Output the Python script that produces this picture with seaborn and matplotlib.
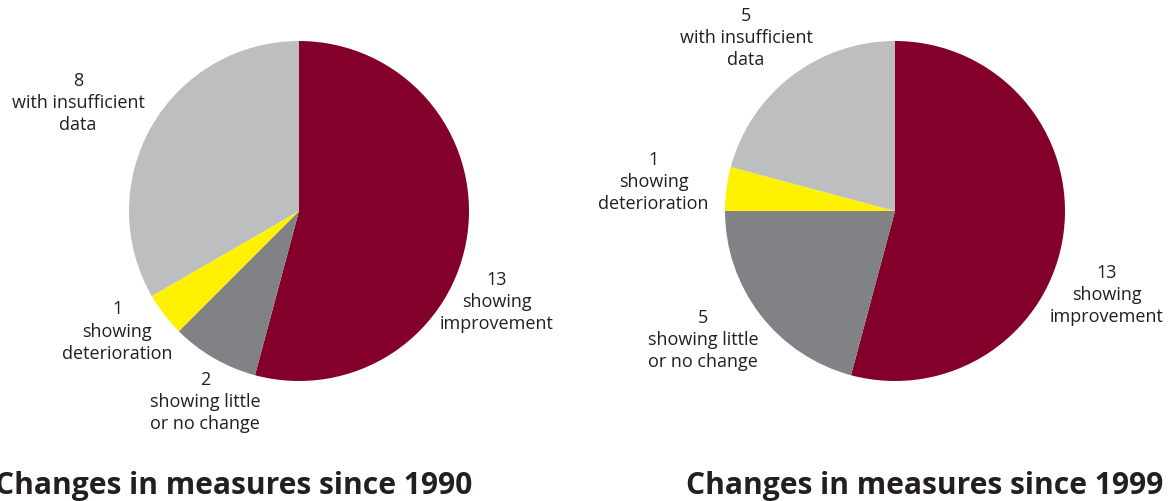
import matplotlib
matplotlib.use("Agg")
import matplotlib.pyplot as plt
import seaborn as sns

sns.set_theme(style="white")
plt.rcParams['font.family'] = ['Open Sans', 'DejaVu Sans']

# Data
categories = ["showing improvement", "showing little\nor no change", "showing\ndeterioration", "with insufficient\ndata"]
values_1990 = [13, 2, 1, 8]
values_1999 = [13, 5, 1, 5]
titles = ["Changes in measures since 1990", "Changes in measures since 1999"]
colors = sns.color_palette(["#82002a", "#808285", "#fff200", "#bcbec0"])
label_texts = ["showing\nimprovement", "showing little\nor no change", "showing\ndeterioration", "with insufficient\ndata"]

# label positions in data units (radius = 1)
label_pos_1990 = [(1.165, -0.535), (-0.553, -1.124), (-1.07, -0.71), (-1.30, 0.635)]
label_pos_1999 = [(1.245, -0.494), (-1.13, -0.76), (-1.42, 0.17), (-0.876, 1.018)]

W, H = 1168, 501
fig = plt.figure(figsize=(W / 100, H / 100), dpi=100)
txt_color = "#231f20"

def make_pie(cx, cy, r, values, label_pos, title, title_x):
    ax = fig.add_axes([(cx - r) / W, (H - cy - r) / H, 2 * r / W, 2 * r / H])
    ax.pie(values, colors=colors, startangle=90, counterclock=False,
           wedgeprops=dict(linewidth=0), radius=1)
    ax.set_xlim(-1, 1)
    ax.set_ylim(-1, 1)
    ax.set_aspect('equal')
    ax.axis('off')
    for v, lab, (x, y) in zip(values, label_texts, label_pos):
        ax.text(x, y, f"{v}\n{lab}", ha='center', va='center', fontsize=13,
                color=txt_color, linespacing=1.3, clip_on=False)
    fig.text(title_x / W, 1 - 486 / H, title, ha='center', va='center',
             fontsize=21.6, fontweight='bold', color=txt_color)

make_pie(299, 211, 170, values_1990, label_pos_1990, titles[0], 234)
make_pie(895, 211, 170, values_1999, label_pos_1999, titles[1], 925)

fig.savefig("out.png", dpi=100, facecolor="white")
